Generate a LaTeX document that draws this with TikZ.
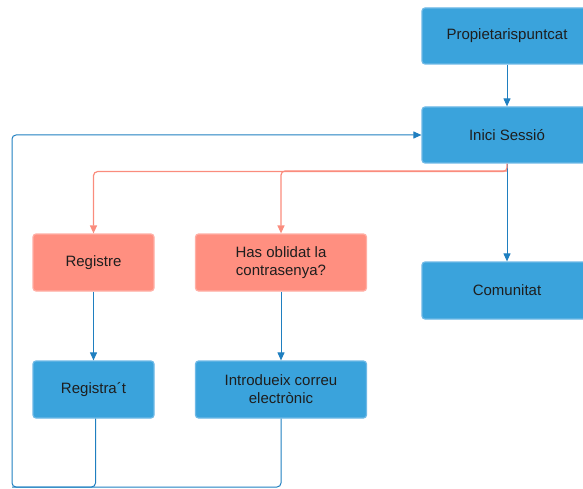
\documentclass[tikz,border=0pt]{standalone}
\usepackage{fontspec}
\setmainfont{Liberation Sans}
\usetikzlibrary{positioning, arrows.meta, calc}

\definecolor{boxblue}{RGB}{58,163,220}
\definecolor{edgeblue}{RGB}{110,185,230}
\definecolor{lineblue}{RGB}{31,127,192}
\definecolor{boxpink}{RGB}{255,143,128}
\definecolor{edgepink}{RGB}{255,175,165}
\definecolor{linepink}{RGB}{250,140,125}
\definecolor{txt}{RGB}{30,30,30}

\begin{document}
\begin{tikzpicture}[
    x=1pt, y=-1pt,
    bluebox/.style={draw=edgeblue, fill=boxblue, line width=1.2pt, rounded corners=3pt, minimum width=170pt, minimum height=56pt, align=center, text=txt, font=\fontsize{15}{18}\selectfont},
    pinkbox/.style={bluebox, draw=edgepink, fill=boxpink},
    arr/.style={-{Triangle[length=8pt, width=7pt]}, line width=1pt, draw=lineblue},
    parr/.style={arr, draw=linepink, line width=1.2pt, rounded corners=4pt},
    back/.style={line width=1pt, draw=lineblue, rounded corners=4pt}
]
\useasboundingbox (0,0) rectangle (583,489);

% Main column
\node[bluebox] (prop) at (507,36) {Propietarispuntcat};
\node[bluebox] (inici) at (507,135) {Inici Sessió};
\node[bluebox, minimum height=57pt] (comu) at (507,290.5) {Comunitat};

% Left branches
\node[pinkbox, minimum width=121pt, minimum height=57pt] (reg) at (93.5,262.5) {Registre};
\node[pinkbox, minimum width=171pt, minimum height=57pt] (oblit) at (281,262.5) {Has oblidat la\\contrasenya?};
\node[bluebox, minimum width=121pt, minimum height=57pt] (regt) at (93.5,389.5) {Registra´t};
\node[bluebox, minimum width=171pt, minimum height=57pt] (intro) at (281,389.5) {Introdueix correu\\electrònic};

% Arrows
\draw[arr] (prop) -- (inici);
\draw[arr] (inici) -- (comu);
\draw[parr] (inici.south) -- ++(0,8) -| (reg.north);
\draw[parr] (inici.south |- 0,171) -| (oblit.north);
\draw[arr] (reg) -- (regt);
\draw[arr] (oblit) -- (intro);

% Loop back to login
\coordinate (bl) at (12,487);
\coordinate (rs) at ($(regt.south)+(2,0)$);
\draw[back] (rs) |- (bl);
\draw[back, -{Triangle[length=8pt, width=7pt]}] (intro.south) |- (bl) |- (inici.west);

\end{tikzpicture}
\end{document}
